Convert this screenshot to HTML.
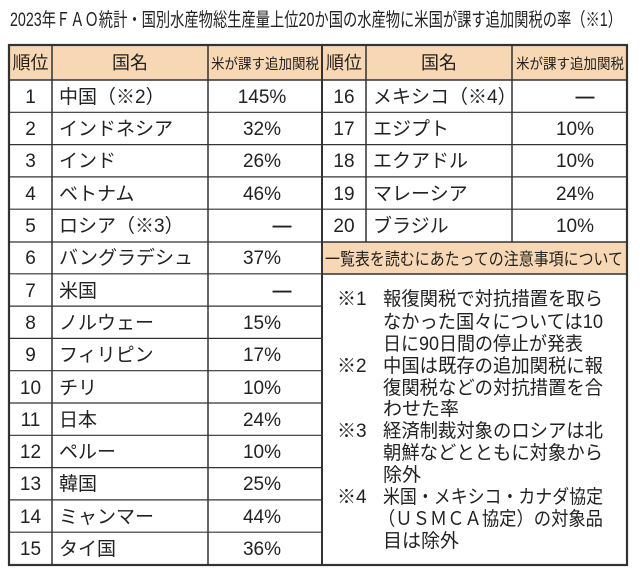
<!DOCTYPE html>
<html><head><meta charset="utf-8"><style>
html,body{margin:0;padding:0;background:#fff;}
svg{display:block;font-family:"Liberation Sans","Noto Sans CJK JP",sans-serif;}
</style></head><body>
<svg width="640" height="577" viewBox="0 0 640 577" xmlns="http://www.w3.org/2000/svg">
<rect width="640" height="577" fill="#fff"/>
<text x="10" y="26" font-size="19" fill="#222" textLength="612" lengthAdjust="spacingAndGlyphs">2023年ＦＡＯ統計・国別水産物総生産量上位20か国の水産物に米国が課す追加関税の率（※1）</text>
<rect x="9" y="45" width="618" height="35" fill="#f8d8b4"/>
<rect x="322" y="242" width="305" height="32" fill="#f8d8b4"/>
<g stroke="#333" stroke-width="1.5" fill="none">
<rect x="9" y="45" width="618" height="520" stroke-width="2.2"/>
<line x1="9" y1="80" x2="627" y2="80"/>
<line x1="52" y1="45" x2="52" y2="565"/>
<line x1="208" y1="45" x2="208" y2="565"/>
<line x1="322" y1="45" x2="322" y2="565" stroke-width="2"/>
<line x1="366" y1="45" x2="366" y2="242"/>
<line x1="512" y1="45" x2="512" y2="242"/>
<line x1="322" y1="242" x2="627" y2="242"/>
<line x1="322" y1="274" x2="627" y2="274"/>
</g>
<g stroke="#333" stroke-width="1.2">
<line x1="9" y1="112.3" x2="627" y2="112.3"/>
<line x1="9" y1="144.6" x2="627" y2="144.6"/>
<line x1="9" y1="176.9" x2="627" y2="176.9"/>
<line x1="9" y1="209.2" x2="627" y2="209.2"/>
<line x1="9" y1="242" x2="322" y2="242"/>
<line x1="9" y1="273.8" x2="322" y2="273.8"/>
<line x1="9" y1="306.1" x2="322" y2="306.1"/>
<line x1="9" y1="338.4" x2="322" y2="338.4"/>
<line x1="9" y1="370.7" x2="322" y2="370.7"/>
<line x1="9" y1="403" x2="322" y2="403"/>
<line x1="9" y1="435.3" x2="322" y2="435.3"/>
<line x1="9" y1="467.6" x2="322" y2="467.6"/>
<line x1="9" y1="499.9" x2="322" y2="499.9"/>
<line x1="9" y1="532.2" x2="322" y2="532.2"/>
</g>
<g font-size="18" fill="#222" text-anchor="middle">
<text x="30.5" y="69" textLength="36" lengthAdjust="spacingAndGlyphs">順位</text>
<text x="130" y="69">国名</text>
<text x="265" y="69" font-size="14.5" textLength="108" lengthAdjust="spacingAndGlyphs">米が課す追加関税</text>
<text x="344" y="69" textLength="36" lengthAdjust="spacingAndGlyphs">順位</text>
<text x="439" y="69">国名</text>
<text x="570" y="69" font-size="14.5" textLength="108" lengthAdjust="spacingAndGlyphs">米が課す追加関税</text>
</g>
<g font-size="19" fill="#222">
<g text-anchor="middle">
<text x="30.5" y="103">1</text><text x="30.5" y="135">2</text><text x="30.5" y="167">3</text><text x="30.5" y="200">4</text><text x="30.5" y="232">5</text>
<text x="30.5" y="264">6</text><text x="30.5" y="297">7</text><text x="30.5" y="329">8</text><text x="30.5" y="361">9</text><text x="30.5" y="394">10</text>
<text x="30.5" y="426">11</text><text x="30.5" y="458">12</text><text x="30.5" y="490">13</text><text x="30.5" y="523">14</text><text x="30.5" y="555">15</text>
<text x="262" y="103">145%</text><text x="262" y="135">32%</text><text x="262" y="167">26%</text><text x="262" y="200">46%</text><text x="282" y="232" font-weight="bold">—</text>
<text x="262" y="264">37%</text><text x="282" y="297" font-weight="bold">—</text><text x="262" y="329">15%</text><text x="262" y="361">17%</text><text x="262" y="394">10%</text>
<text x="262" y="426">24%</text><text x="262" y="458">10%</text><text x="262" y="490">25%</text><text x="262" y="523">44%</text><text x="262" y="555">36%</text>
<text x="344" y="103">16</text><text x="344" y="135">17</text><text x="344" y="167">18</text><text x="344" y="200">19</text><text x="344" y="232">20</text>
<text x="585" y="103" font-weight="bold">—</text><text x="575" y="135">10%</text><text x="575" y="167">10%</text><text x="575" y="200">24%</text><text x="575" y="232">10%</text>
</g>
<text x="59" y="103">中国（※2）</text><text x="59" y="135">インドネシア</text><text x="59" y="167">インド</text><text x="59" y="200">ベトナム</text><text x="59" y="232">ロシア（※3）</text>
<text x="59" y="264">バングラデシュ</text><text x="59" y="297">米国</text><text x="59" y="329">ノルウェー</text><text x="59" y="361">フィリピン</text><text x="59" y="394">チリ</text>
<text x="59" y="426">日本</text><text x="59" y="458">ペルー</text><text x="59" y="490">韓国</text><text x="59" y="523">ミャンマー</text><text x="59" y="555">タイ国</text>
<text x="373" y="103">メキシコ（※4）</text><text x="373" y="135">エジプト</text><text x="373" y="167">エクアドル</text><text x="373" y="200">マレーシア</text><text x="373" y="232">ブラジル</text>
</g>
<text x="325" y="265" font-size="17" fill="#222" textLength="298" lengthAdjust="spacingAndGlyphs">一覧表を読むにあたっての注意事項について</text>
<g font-size="19" fill="#222">
<text x="337" y="305">※1</text><text x="383" y="305" textLength="220" lengthAdjust="spacingAndGlyphs">報復関税で対抗措置を取ら</text><text x="383" y="328" textLength="220" lengthAdjust="spacingAndGlyphs">なかった国々については10</text><text x="383" y="350" textLength="200" lengthAdjust="spacingAndGlyphs">日に90日間の停止が発表</text>
<text x="337" y="372">※2</text><text x="383" y="372" textLength="220" lengthAdjust="spacingAndGlyphs">中国は既存の追加関税に報</text><text x="383" y="394" textLength="220" lengthAdjust="spacingAndGlyphs">復関税などの対抗措置を合</text><text x="383" y="415">わせた率</text>
<text x="337" y="437">※3</text><text x="383" y="437" textLength="220" lengthAdjust="spacingAndGlyphs">経済制裁対象のロシアは北</text><text x="383" y="459" textLength="220" lengthAdjust="spacingAndGlyphs">朝鮮などとともに対象から</text><text x="383" y="481">除外</text>
<text x="337" y="503">※4</text><text x="383" y="503" textLength="220" lengthAdjust="spacingAndGlyphs">米国・メキシコ・カナダ協定</text><text x="378" y="525" textLength="225" lengthAdjust="spacingAndGlyphs">（ＵＳＭＣＡ協定）の対象品</text><text x="383" y="547">目は除外</text>
</g>
</svg>
</body></html>
